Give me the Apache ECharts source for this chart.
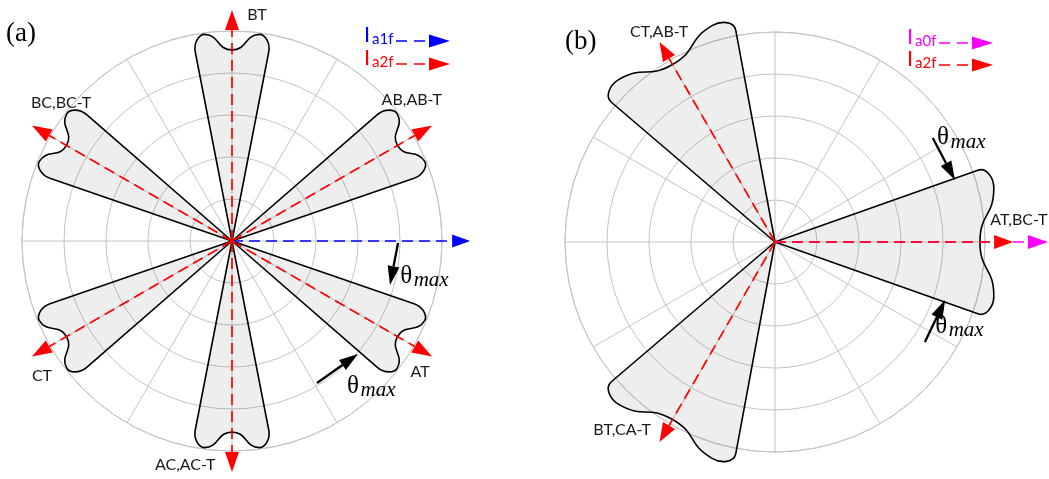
<!DOCTYPE html>
<html>
<head>
<meta charset="utf-8">
<script src="https://cdn.jsdelivr.net/npm/echarts@6/dist/echarts.min.js"></script>
<style>
  html, body { margin: 0; padding: 0; background: #ffffff; }
  #chart { width: 1049px; height: 479px; }
</style>
</head>
<body>
<div id="chart"></div>
<script>
// ---------- data ----------
// Panel (a): fault-region sectors, direction in degrees (counter-clockwise from +x)
const sectorLabelsA = ['BT', 'AB,AB-T', 'AT', 'AC,AC-T', 'CT', 'BC,BC-T'];
const sectorAnglesA = [90, 30, 330, 270, 210, 150];
const thetaMaxA = 11;            // half-width of each sector (deg)

// Panel (b)
const sectorLabelsB = ['CT,AB-T', 'AT,BC-T', 'BT,CA-T'];
const sectorAnglesB = [120, 0, 240];
const thetaMaxB = 19.5;

// Phasor arrows: direction (deg) and length (radius-axis units)
const ia1fAnglesA = [0];
const ia1fLengthsA = [5.67];
const ia2fAnglesA = [90, 30, 330, 270, 210, 150];
const ia2fLengthsA = [5.5, 5.5, 5.5, 5.5, 5.5, 5.5];
const ia0fAnglesB = [0];
const ia0fLengthsB = [6.5];
const ia2fAnglesB = [120, 0, 240];
const ia2fLengthsB = [5.5, 5.67, 5.5];

// ---------- layout / style ----------
const GRID = '#c4c4c4';
const RED = '#ff0000', BLUE = '#0000ff', MAGENTA = '#ff00ff';
const DASH = [11, 6];

// end-cap shape of the sectors (radius units; peakS = lateral offset of the rounded corners)
const capA = { edge: 4.5, peak: 4.92, peakS: 0.66, dip: 4.55 };
const capB = { edge: 4.83, peak: 5.21, peakS: 1.29, dip: 4.88 };

// label anchors [radius, angle]
const labelPosA = [[5.41, 83.7], [5.44, 38.1], [5.46, 325.1], [5.45, 258.2], [5.55, 215.4], [5.23, 141.1]];
const labelPosB = [[5.71, 118.9], [5.83, 5.15], [5.77, 230.9]];

// theta-max pointers: tail, tip and text anchor as [radius, angle]
const thetaNotesA = [
  { tail: [3.953, -0.69], tip: [3.905, -15.56], text: [4.09, -11.77] },
  { tail: [3.94, -59.1], tip: [4.03, -41.9], text: [4.41, -51.6] }
];
const thetaNotesB = [
  { tail: [4.50, 33.4], tip: [4.53, 19.0], text: [4.59, 32.8] },
  { tail: [4.29, -33.7], tip: [4.28, -18.8], text: [4.31, -27.8] }
];

// ---------- drawing helpers ----------
function arrowEls(p0, p1, color, headLen, headW, dash, lw) {
  const dx = p1[0] - p0[0], dy = p1[1] - p0[1];
  const L = Math.hypot(dx, dy);
  const ux = dx / L, uy = dy / L;
  const bx = p1[0] - ux * headLen, by = p1[1] - uy * headLen;
  const line = { type: 'line', shape: { x1: p0[0], y1: p0[1], x2: bx, y2: by },
    style: { stroke: color, lineWidth: lw, fill: null } };
  if (dash) line.style.lineDash = dash;
  return [
    line,
    { type: 'polygon',
      shape: { points: [[p1[0], p1[1]], [bx - uy * headW / 2, by + ux * headW / 2], [bx + uy * headW / 2, by - ux * headW / 2]] },
      style: { fill: color } }
  ];
}

function sectorRender(halfAngle, cap) {
  return function (params, api) {
    const ang = api.value(1);
    const tan = Math.tan(halfAngle * Math.PI / 180);
    const P = (t, s) => api.coord([Math.hypot(t, s), ang + Math.atan2(s, t) * 180 / Math.PI]);
    const te = cap.edge, se = te * tan, tp = cap.peak, sp = cap.peakS, td = cap.dip;
    const k = 0.55;
    const c1t = te + k * (tp - te), c1s = se + k * (tp - te) * tan;
    const c2s = sp + k * (se - sp);
    const f = p => p[0].toFixed(2) + ' ' + p[1].toFixed(2);
    const O = P(0, 0);
    const d = [
      'M', f(O),
      'L', f(P(te, se)),
      'C', f(P(c1t, c1s)), f(P(tp, c2s)), f(P(tp, sp)),
      'C', f(P(tp, sp * 0.45)), f(P(td, sp * 0.55)), f(P(td, 0)),
      'C', f(P(td, -sp * 0.55)), f(P(tp, -sp * 0.45)), f(P(tp, -sp)),
      'C', f(P(tp, -c2s)), f(P(c1t, -c1s)), f(P(te, -se)),
      'Z'
    ].join(' ');
    return {
      type: 'path',
      shape: { pathData: d },
      style: { fill: 'rgba(0,0,0,0.068)', stroke: '#000000', lineWidth: 1.6, lineJoin: 'round' }
    };
  };
}

function phasorRender(lengths, color, headLen, headW) {
  return function (params, api) {
    const i = params.dataIndex;
    const o = api.coord([0, 0]);
    const tip = api.coord([lengths[i], api.value(1)]);
    return { type: 'group', children: arrowEls(o, tip, color, headLen, headW, DASH, 1.7) };
  };
}

function labelRender(texts) {
  return function (params, api) {
    const p = api.coord([api.value(0), api.value(1)]);
    return {
      type: 'text', x: p[0], y: p[1],
      style: { text: texts[params.dataIndex], fill: '#1a1a1a', font: '16px Lato',
               align: 'center', verticalAlign: 'middle' }
    };
  };
}

function thetaRender(notes) {
  return function (params, api) {
    const n = notes[params.dataIndex];
    const a = api.coord(n.tail), b = api.coord(n.tip), t = api.coord(n.text);
    return {
      type: 'group',
      children: arrowEls(a, b, '#000000', 19, 12, null, 2.3).concat([
        { type: 'text', x: t[0], y: t[1],
          style: { text: 'θ', fill: '#000', font: '25px "Liberation Serif"', align: 'left', verticalAlign: 'middle' } },
        { type: 'text', x: t[0] + 13.5, y: t[1] + 4.5,
          style: { text: 'max', fill: '#000', font: 'italic 21px "Liberation Serif"', align: 'left', verticalAlign: 'middle' } }
      ])
    };
  };
}

function polarSeries(polarIndex, data, renderItem, z) {
  return { type: 'custom', coordinateSystem: 'polar', polarIndex, data, renderItem, z, silent: true, clip: false };
}

// ---------- legend (graphic) ----------
function legendRow(x, y, sub, color) {
  return [
    { type: 'text', x: x, y: y - 6, style: { text: 'I', fill: color, font: '22px Lato', align: 'left', verticalAlign: 'middle' } },
    { type: 'text', x: x + 8, y: y - 1.5, style: { text: sub, fill: color, font: '15px Lato', align: 'left', verticalAlign: 'middle' } },
    { type: 'line', shape: { x1: x + 32, y1: y, x2: x + 66, y2: y }, style: { stroke: color, lineWidth: 1.7, lineDash: [11, 7] } },
    { type: 'polygon', shape: { points: [[x + 86, y], [x + 65, y - 6.5], [x + 65, y + 6.5]] }, style: { fill: color } }
  ];
}

const graphicEls = [].concat(
  [{ type: 'text', x: 6, y: 34, style: { text: '(a)', fill: '#000', font: '27px "Liberation Serif"', align: 'left', verticalAlign: 'middle' } },
   { type: 'text', x: 565, y: 42, style: { text: '(b)', fill: '#000', font: '27px "Liberation Serif"', align: 'left', verticalAlign: 'middle' } }],
  legendRow(364, 41, 'a1f', BLUE),
  legendRow(364, 64, 'a2f', RED),
  legendRow(907, 43, 'a0f', MAGENTA),
  legendRow(907, 65, 'a2f', RED)
);

// ---------- chart ----------
const chart = echarts.init(document.getElementById('chart'), null, { renderer: 'canvas' });

const axisPair = [0, 1];
chart.setOption({
  animation: false,
  backgroundColor: '#ffffff',
  polar: [
    { center: [232, 241], radius: 210 },
    { center: [775, 242], radius: 210 }
  ],
  angleAxis: axisPair.map(i => ({
    polarIndex: i, type: 'value', min: 0, max: 360, interval: 30, startAngle: 0, clockwise: false,
    axisLine: { show: true, lineStyle: { color: GRID, width: 1 } },
    axisTick: { show: false }, axisLabel: { show: false },
    splitLine: { show: true, lineStyle: { color: GRID, width: 1 } }
  })),
  radiusAxis: axisPair.map(i => ({
    polarIndex: i, type: 'value', min: 0, max: 5, interval: 1,
    axisLine: { show: false }, axisTick: { show: false }, axisLabel: { show: false },
    splitLine: { show: true, lineStyle: { color: GRID, width: 1 } }
  })),
  graphic: { elements: graphicEls },
  series: [
    // sectors
    polarSeries(0, sectorAnglesA.map(a => [capA.peak, a]), sectorRender(thetaMaxA, capA), 2),
    polarSeries(1, sectorAnglesB.map(a => [capB.peak, a]), sectorRender(thetaMaxB, capB), 2),
    // phasors
    polarSeries(0, ia1fAnglesA.map((a, i) => [ia1fLengthsA[i], a]), phasorRender(ia1fLengthsA, BLUE, 18, 13), 3),
    polarSeries(0, ia2fAnglesA.map((a, i) => [ia2fLengthsA[i], a]), phasorRender(ia2fLengthsA, RED, 20, 14), 4),
    polarSeries(1, ia0fAnglesB.map((a, i) => [ia0fLengthsB[i], a]), phasorRender(ia0fLengthsB, MAGENTA, 20, 14), 3),
    polarSeries(1, ia2fAnglesB.map((a, i) => [ia2fLengthsB[i], a]), phasorRender(ia2fLengthsB, RED, 19, 14), 4),
    // sector labels
    polarSeries(0, labelPosA, labelRender(sectorLabelsA), 5),
    polarSeries(1, labelPosB, labelRender(sectorLabelsB), 5),
    // theta-max pointers
    polarSeries(0, thetaNotesA.map(n => n.tip), thetaRender(thetaNotesA), 5),
    polarSeries(1, thetaNotesB.map(n => n.tip), thetaRender(thetaNotesB), 5)
  ]
});
</script>
</body>
</html>
